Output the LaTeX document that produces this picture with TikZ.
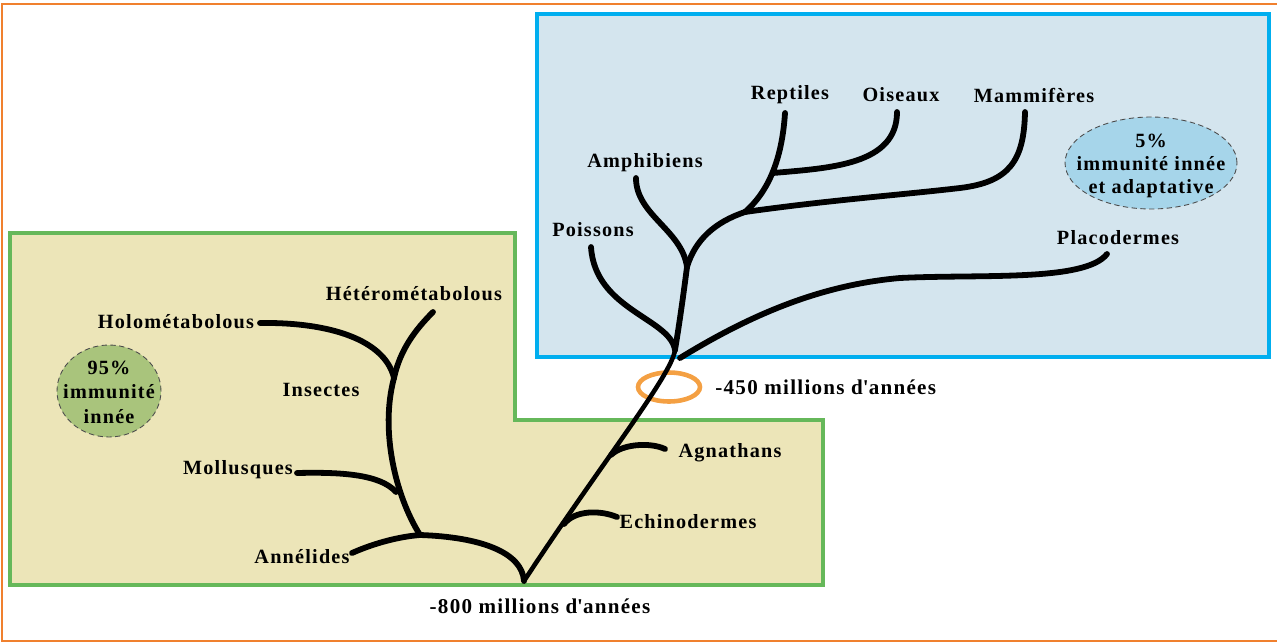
\documentclass[tikz,border=0pt]{standalone}
\usepackage{fontspec}
\setmainfont{Liberation Serif}[LetterSpace=6]
\usetikzlibrary{positioning,shapes.geometric}
\definecolor{frameorange}{HTML}{F0802E}
\definecolor{skyline}{HTML}{00AEEF}
\definecolor{skyfill}{HTML}{D4E5EE}
\definecolor{leafline}{HTML}{66B85A}
\definecolor{leaffill}{HTML}{ECE5B8}
\definecolor{innatefill}{HTML}{A9C47C}
\definecolor{adaptfill}{HTML}{A6D5EA}
\definecolor{ringorange}{HTML}{F4A043}
\begin{document}
\begin{tikzpicture}[x=0.02cm,y=-0.02cm,node distance=0.22cm,
 every node/.style={font=\bfseries\fontsize{11.5}{13}\selectfont},
 taxon/.style={inner sep=1pt},
 epoch/.style={inner sep=1pt,font=\bfseries\fontsize{12}{14}\selectfont},
 branch/.style={line width=3.3pt,line cap=round},
 trunk/.style={line width=2.6pt,line cap=round},
 bubble/.style={draw=black!70,densely dashed,line width=0.5pt}]
\useasboundingbox (0,0) rectangle (1277,642);
% panels
\draw[frameorange,line width=1.5pt] (1277,4) -- (2,4) -- (2,641) -- (1277,641);
\draw[leafline,fill=leaffill,line width=2.6pt] (10,233) -- (515,233) -- (515,420) -- (823,420) -- (823,585) -- (10,585) -- cycle;
\draw[skyline,fill=skyfill,line width=2.8pt] (537,14) rectangle (1269,357);
% ring at -450
\node[ellipse,draw=ringorange,line width=2.6pt,minimum width=1.24cm,minimum height=0.58cm,inner sep=0pt] (ring) at (669,387) {};
\node[epoch,right=of ring] (t450) {-450 millions d\textquotesingle années};
% junctions and tips
\coordinate (root) at (524,581);
\coordinate (annj) at (420,535);
\coordinate (mollj) at (396,492);
\coordinate (insj) at (394,378);
\coordinate (echj) at (564,524);
\coordinate (agnj) at (611,455);
\coordinate (vertj) at (675,350);
\coordinate (placoj) at (680,358);
\coordinate (amphj) at (687,267);
\coordinate (amnj) at (745,212);
\coordinate (sauj) at (773,173);
\coordinate (holoE) at (260,323);
\coordinate (heteroE) at (433,312);
\coordinate (molluE) at (297,473);
\coordinate (anneliE) at (352,553);
\coordinate (echinoE) at (617,517);
\coordinate (agnaE) at (665,449);
\coordinate (poissE) at (591,247);
\coordinate (amphiE) at (636,178);
\coordinate (reptE) at (785,113);
\coordinate (oisE) at (897,112);
\coordinate (mammE) at (1025,112);
\coordinate (placoE) at (1107,254);
% tree
\draw[trunk] (root) .. controls (600,465) and (672,375) .. (vertj);
\draw[branch] (vertj) .. controls (680,320) and (684,290) .. (amphj);
\draw[branch] (root) .. controls (522,552) and (480,537) .. (annj);
\draw[branch] (annj) .. controls (395,537) and (370,545) .. (anneliE);
\draw[branch] (annj) .. controls (395,495) and (380,430) .. (insj);
\draw[branch] (mollj) .. controls (380,474) and (340,472) .. (molluE);
\draw[branch] (insj) .. controls (385,340) and (330,322) .. (holoE);
\draw[branch] (insj) .. controls (400,350) and (415,330) .. (heteroE);
\draw[branch] (echj) .. controls (575,510) and (600,510) .. (echinoE);
\draw[branch] (agnj) .. controls (622,444) and (650,442) .. (agnaE);
\draw[branch] (vertj) .. controls (670,318) and (595,310) .. (poissE);
\draw[branch] (amphj) .. controls (682,230) and (636,215) .. (amphiE);
\draw[branch] (amphj) .. controls (695,240) and (715,222) .. (amnj);
\draw[branch] (amnj) .. controls (768,192) and (782,160) .. (reptE);
\draw[branch] (sauj) .. controls (830,168) and (897,165) .. (oisE);
\draw[branch] (amnj) .. controls (830,200) and (900,195) .. (960,188) .. controls (1010,182) and (1024,160) .. (mammE);
\draw[branch] (placoj) .. controls (750,315) and (820,285) .. (900,278) .. controls (980,274) and (1085,282) .. (placoE);
% bubbles
\draw[bubble,fill=innatefill] (109,391) ellipse [x radius=1.04cm,y radius=0.92cm];
\node[align=center,font=\bfseries\fontsize{11.5}{14}\selectfont] (inn) at (109,392) {95\%\\immunité\\innée};
\draw[bubble,fill=adaptfill] (1151,163) ellipse [x radius=1.72cm,y radius=0.92cm];
\node[align=center] (adap) at (1151,166) {5\%\\immunité innée\\et adaptative};
% labels
\node[taxon] (holo) at (176,322) {Holométabolous};
\node[taxon] (hetero) at (414,294) {Hétérométabolous};
\node[taxon] (insect) at (321,390) {Insectes};
\node[taxon] (mollu) at (238,470) {Mollusques};
\node[taxon] (anneli) at (302,557) {Annélides};
\node[taxon] (echino) at (688,522) {Echinodermes};
\node[taxon] (agna) at (730,453) {Agnathans};
\node[taxon] (poiss) at (593,230) {Poissons};
\node[taxon] (amphi) at (645,163) {Amphibiens};
\node[taxon] (rept) at (790,95) {Reptiles};
\node[taxon] (ois) at (901,95) {Oiseaux};
\node[taxon] (mamm) at (1034,95) {Mammifères};
\node[taxon] (placo) at (1118,238) {Placodermes};
\node[epoch] (t800) at (540,606) {-800 millions d\textquotesingle années};
\end{tikzpicture}
\end{document}
